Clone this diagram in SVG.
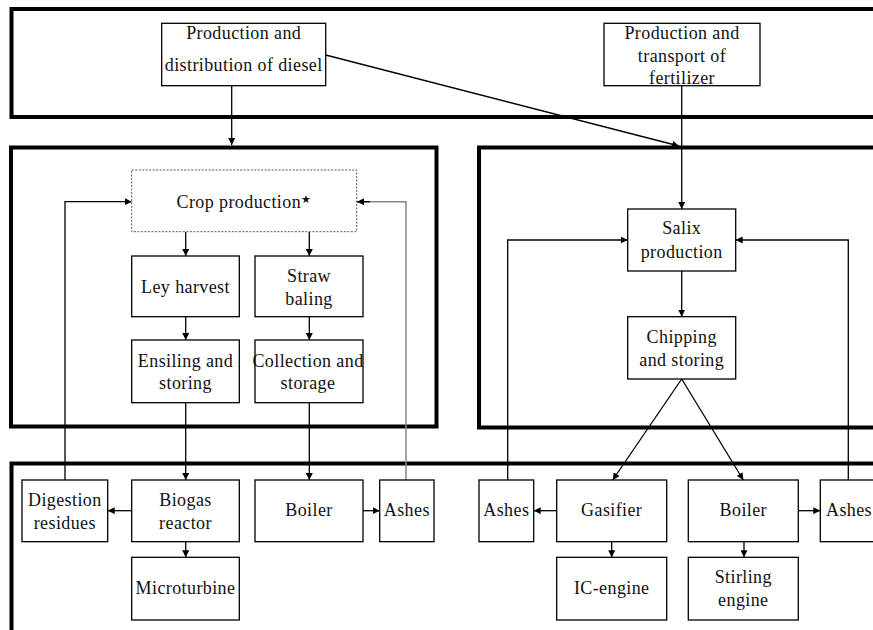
<svg xmlns="http://www.w3.org/2000/svg" width="873" height="630" viewBox="0 0 873 630">
<style>
.frame{fill:none;stroke:#000;stroke-width:4}
.box{fill:#fff;stroke:#000;stroke-width:1.3}
.dot{fill:#fff;stroke:#555;stroke-width:1;stroke-dasharray:2 1.5}
.t{font-family:"Liberation Serif","Times New Roman",serif;font-size:18px;letter-spacing:0.4px;fill:#111;text-anchor:middle}
.c{fill:none;stroke:#000;stroke-width:1.3}
.g{fill:none;stroke:#888;stroke-width:1.5}
</style>
<defs>
<marker id="ah" viewBox="0 0 8 8" refX="8" refY="4" markerWidth="7" markerHeight="7" markerUnits="userSpaceOnUse" orient="auto">
<path d="M0,0 L8,4 L0,8 z" fill="#000"/>
</marker>
</defs>
<rect width="873" height="630" fill="#fff"/>
<g id="frames">
<rect class="frame" x="11.5" y="9" width="880" height="108"/>
<rect class="frame" x="11" y="147.5" width="425.5" height="279"/>
<rect class="frame" x="479" y="147.5" width="420" height="280"/>
<rect class="frame" x="11.5" y="463.5" width="880" height="220"/>
</g>
<g id="connectors">
<path class="c" d="M231.7,85.7 V145" marker-end="url(#ah)"/>
<path class="c" d="M325.7,55 L679,146" marker-end="url(#ah)"/>
<path class="c" d="M681.7,85.7 V209" marker-end="url(#ah)"/>
<path class="c" d="M185.7,231.7 V256" marker-end="url(#ah)"/>
<path class="c" d="M309.3,231.7 V256" marker-end="url(#ah)"/>
<path class="c" d="M185.7,316.7 V340" marker-end="url(#ah)"/>
<path class="c" d="M309.3,316.7 V340" marker-end="url(#ah)"/>
<path class="c" d="M185.7,402.7 V480" marker-end="url(#ah)"/>
<path class="c" d="M309.3,402.7 V480" marker-end="url(#ah)"/>
<path class="c" d="M65,480 V201.7 H131.7" marker-end="url(#ah)"/>
<path class="g" d="M406,480 V201.7 H357"/>
<path class="c" d="M370,201.7 H357" marker-end="url(#ah)"/>
<path class="c" d="M131.7,510.7 H107.7" marker-end="url(#ah)"/>
<path class="c" d="M363,510.7 H379.7" marker-end="url(#ah)"/>
<path class="c" d="M185.7,541.7 V557.3" marker-end="url(#ah)"/>
<path class="c" d="M681.7,271 V316.7" marker-end="url(#ah)"/>
<path class="c" d="M507.7,480 V240 H627.7" marker-end="url(#ah)"/>
<path class="c" d="M848.3,480 V240 H735.7" marker-end="url(#ah)"/>
<path class="c" d="M681.7,379 L612.7,480" marker-end="url(#ah)"/>
<path class="c" d="M681.7,379 L743.3,480" marker-end="url(#ah)"/>
<path class="c" d="M556.7,510.7 H533.7" marker-end="url(#ah)"/>
<path class="c" d="M798.3,510.7 H820.3" marker-end="url(#ah)"/>
<path class="c" d="M611.7,541.7 V557.3" marker-end="url(#ah)"/>
<path class="c" d="M744,541.7 V557.3" marker-end="url(#ah)"/>
</g>
<g id="diesel"><rect class="box" x="161.7" y="23.3" width="164" height="62.4"/><text class="t" x="243.7" y="38.5">Production and</text><text class="t" x="243.7" y="70.5">distribution of diesel</text></g>
<g id="fertilizer"><rect class="box" x="604" y="23.3" width="156" height="62.4"/><text class="t" x="682" y="38.5">Production and</text><text class="t" x="682" y="62">transport of</text><text class="t" x="682" y="84">fertilizer</text></g>
<g id="crop"><rect class="dot" x="131.7" y="170" width="225" height="61.7"/><text class="t" x="244" y="208.3">Crop production<tspan font-size="11" dy="-5">★</tspan></text></g>
<g id="ley"><rect class="box" x="131.7" y="256" width="107.6" height="60.7"/><text class="t" x="185.5" y="292.7">Ley harvest</text></g>
<g id="straw"><rect class="box" x="255" y="256" width="108" height="60.7"/><text class="t" x="309" y="281.7">Straw</text><text class="t" x="309" y="305">baling</text></g>
<g id="ensiling"><rect class="box" x="131.7" y="340" width="107.6" height="62.7"/><text class="t" x="185.5" y="367.3">Ensiling and</text><text class="t" x="185.5" y="389.3">storing</text></g>
<g id="collection"><rect class="box" x="255" y="340" width="108" height="62.7"/><text class="t" x="308" y="367.3">Collection and</text><text class="t" x="308" y="389.3">storage</text></g>
<g id="salix"><rect class="box" x="627.7" y="209" width="108" height="62"/><text class="t" x="681.7" y="234.3">Salix</text><text class="t" x="681.7" y="258.3">production</text></g>
<g id="chipping"><rect class="box" x="627.7" y="316.7" width="108" height="62.3"/><text class="t" x="681.7" y="342.7">Chipping</text><text class="t" x="681.7" y="365.7">and storing</text></g>
<g id="digestion"><rect class="box" x="22" y="480" width="85.7" height="61.7"/><text class="t" x="64.8" y="506">Digestion</text><text class="t" x="64.8" y="529.3">residues</text></g>
<g id="biogas"><rect class="box" x="131.7" y="480" width="107.6" height="61.7"/><text class="t" x="185.5" y="506">Biogas</text><text class="t" x="185.5" y="529.3">reactor</text></g>
<g id="boiler1"><rect class="box" x="255" y="480" width="108" height="61.7"/><text class="t" x="309" y="516">Boiler</text></g>
<g id="ashes1"><rect class="box" x="379.7" y="480" width="54.3" height="61.7"/><text class="t" x="406.8" y="516">Ashes</text></g>
<g id="microturbine"><rect class="box" x="131.7" y="557.3" width="107.6" height="62.7"/><text class="t" x="185.5" y="594.3">Microturbine</text></g>
<g id="ashes2"><rect class="box" x="479" y="480" width="54.7" height="61.7"/><text class="t" x="506.3" y="516">Ashes</text></g>
<g id="gasifier"><rect class="box" x="556.7" y="480" width="110" height="61.7"/><text class="t" x="611.7" y="516">Gasifier</text></g>
<g id="boiler2"><rect class="box" x="688.3" y="480" width="110" height="61.7"/><text class="t" x="743.3" y="516">Boiler</text></g>
<g id="ashes3"><rect class="box" x="820.3" y="480" width="60" height="61.7"/><text class="t" x="849" y="516">Ashes</text></g>
<g id="icengine"><rect class="box" x="556.7" y="557.3" width="110" height="62.7"/><text class="t" x="611.7" y="594.3">IC-engine</text></g>
<g id="stirling"><rect class="box" x="688.3" y="557.3" width="110" height="62.7"/><text class="t" x="743.3" y="583.3">Stirling</text><text class="t" x="743.3" y="606">engine</text></g>
</svg>
